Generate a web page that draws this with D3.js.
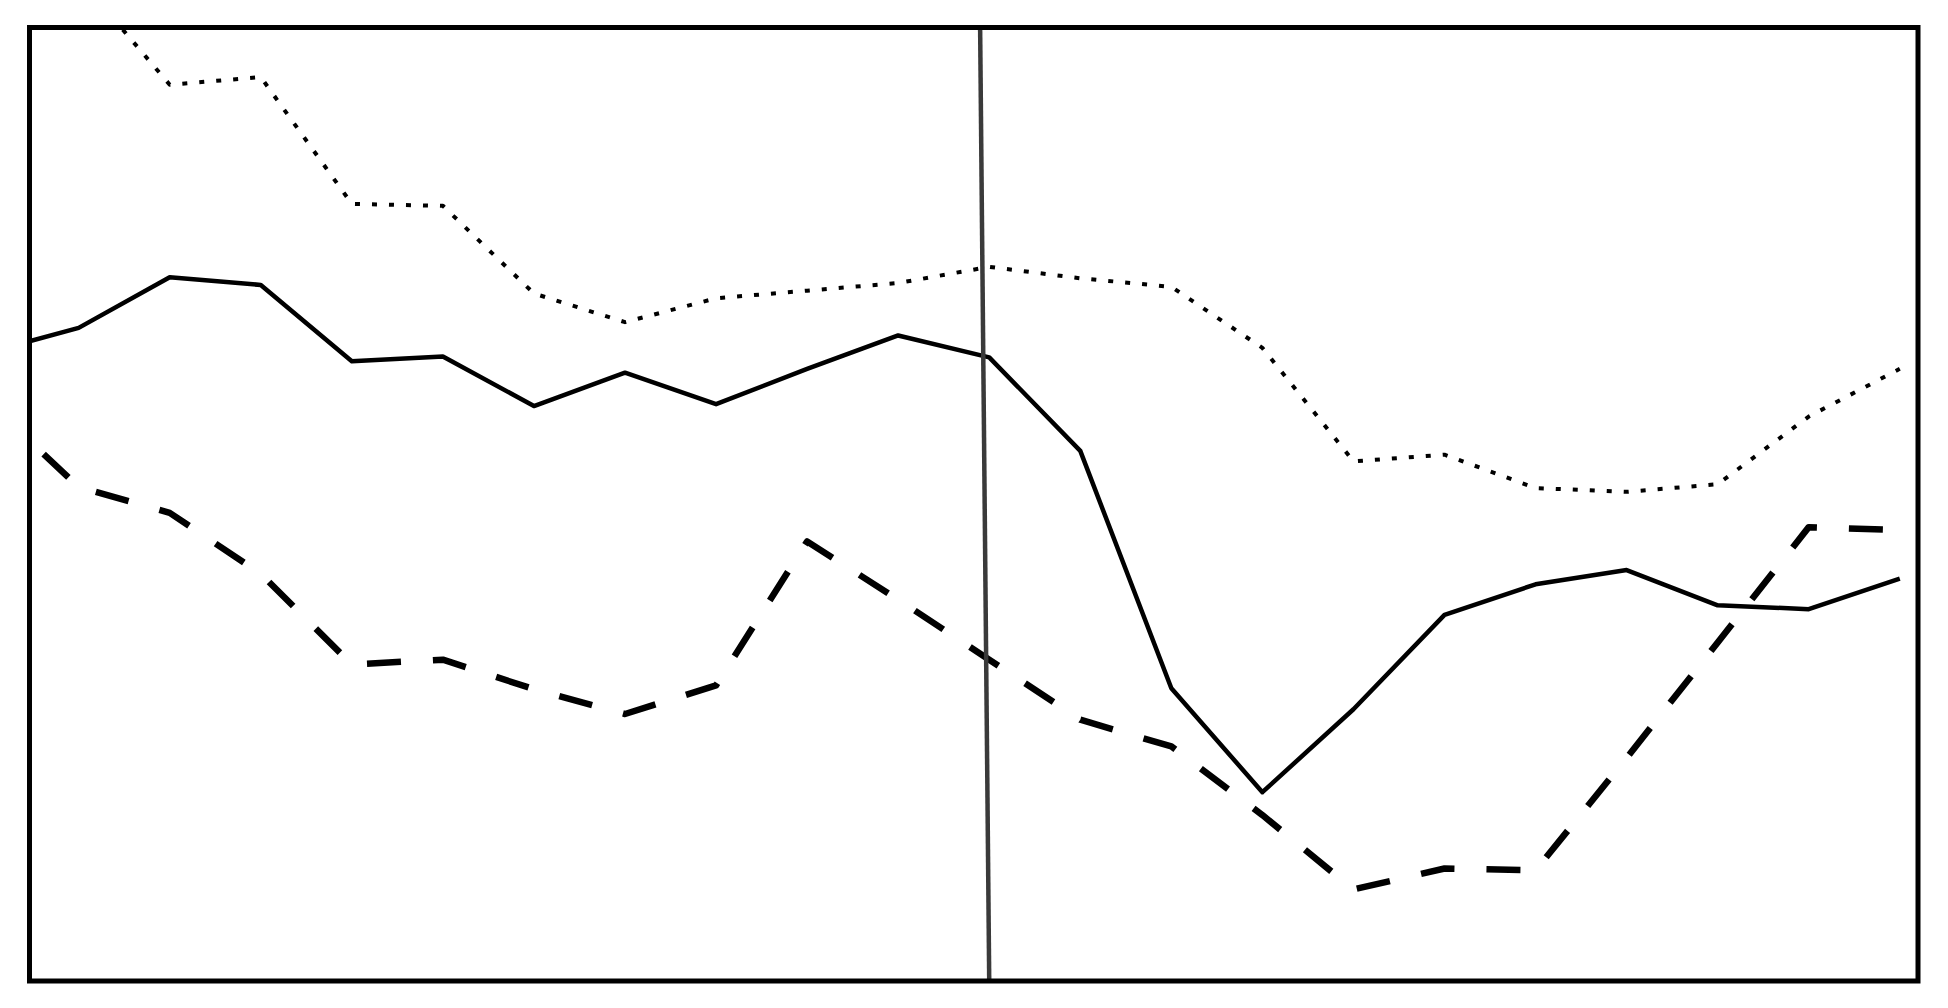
<!DOCTYPE html>
<html>
<head>
<meta charset="utf-8">
<script src="https://cdn.jsdelivr.net/npm/d3@7"></script>
<style>
  body { margin: 0; background: #fff; }
  svg { display: block; }
</style>
</head>
<body>
<div id="container"></div>
<script>
// ************************************************************************************** //
// Data

var xValues = [0, 1, 2, 3, 4, 5, 6, 7, 8, 9, 10, 11, 12, 13, 14, 15, 16, 17, 18, 19, 20, 21];

var solidValues  = [65.9, 68.5, 73.8, 73.0, 65.0, 65.5, 60.3, 63.8, 60.5, 64.2, 67.7,
                    65.4, 55.6, 30.7, 19.8, 28.5, 38.4, 41.6, 43.1, 39.4, 39.0, 42.2];
var dashedValues = [60.8, 51.8, 49.1, 42.7, 33.2, 33.7, 30.6, 28.0, 31.0, 46.1, 40.0,
                    33.7, 27.4, 24.6, 17.4, 9.6, 11.8, 11.6, 23.4, 35.5, 47.6, 47.3];
var dottedValues = [null, 105.2, 94.0, 94.8, 81.5, 81.3, 72.1, 69.1, 71.6, 72.4, 73.2,
                    74.9, 73.7, 72.8, 66.4, 54.5, 55.2, 51.7, 51.3, 52.1, 59.2, 64.2];

// vertical marker, x at top and bottom of the frame
var markerX = [10.9, 11.0];
var yDomain = [0, 100];

// ************************************************************************************** //
// Create

var canvas_width = 1948, canvas_height = 1008;
var frame = { left: 29.5, right: 1918, top: 27.5, bottom: 981 };

var svg = d3.select('#container').append('svg')
  .attr('width', canvas_width).attr('height', canvas_height);

var xScale = d3.scaleLinear().domain([0, 21]).range([-12.4, 1899.8]);
var yScale = d3.scaleLinear().domain(yDomain).range([frame.bottom, frame.top]);

svg.append('defs').append('clipPath').attr('id', 'plot_clip')
  .append('rect')
  .attr('x', frame.left).attr('y', frame.top)
  .attr('width', frame.right - frame.left).attr('height', frame.bottom - frame.top);

var plot = svg.append('g').attr('clip-path', 'url(#plot_clip)');

var lineGen = function(vals){
  return d3.line()
    .defined(function(d, i){ return vals[i] != null; })
    .x(function(d){ return xScale(d); })
    .y(function(d, i){ return yScale(vals[i]); })(xValues);
};

var series = [
  { vals: dottedValues, width: 4,   dash: '5,12',  offset: 0 },
  { vals: solidValues,  width: 4.5, dash: null,    offset: 0 },
  { vals: dashedValues, width: 6.5, dash: '34,32', offset: 55 }
];

series.forEach(function(s){
  plot.append('path')
    .attr('d', lineGen(s.vals))
    .style('fill', 'none')
    .style('stroke', '#000')
    .style('stroke-width', s.width)
    .style('stroke-linejoin', 'round')
    .style('stroke-dasharray', s.dash)
    .style('stroke-dashoffset', s.offset);
});

plot.append('line')
  .attr('x1', xScale(markerX[0])).attr('y1', yScale(yDomain[1]))
  .attr('x2', xScale(markerX[1])).attr('y2', yScale(yDomain[0]))
  .style('stroke', '#3a3a3a')
  .style('stroke-width', 4.5);

// frame
svg.append('rect')
  .attr('x', frame.left).attr('y', frame.top)
  .attr('width', frame.right - frame.left).attr('height', frame.bottom - frame.top)
  .style('fill', 'none')
  .style('stroke', '#000')
  .style('stroke-width', 5);
</script>
</body>
</html>
